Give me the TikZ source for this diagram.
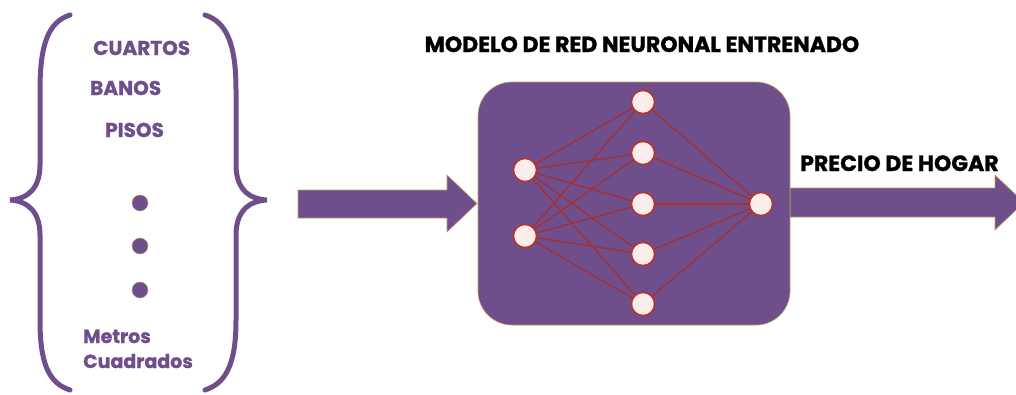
\documentclass[tikz,border=0pt]{standalone}
\usepackage{fontspec}
\setmainfont{Poppins}[BoldFeatures={FakeBold=1.2}]
\definecolor{vio}{RGB}{111,78,140}
\definecolor{tanline}{RGB}{196,160,90}
\definecolor{nred}{RGB}{190,48,42}
\definecolor{nfill}{RGB}{250,238,236}
\begin{document}
\begin{tikzpicture}[x=1pt,y=-1pt,
  neuron/.style={circle,draw=nred,fill=nfill,line width=1.4pt,minimum size=23pt,inner sep=0pt},
  syn/.style={draw=nred!90!black,line width=1.1pt},
  feat/.style={text=vio,font=\bfseries\fontsize{20}{24}\selectfont,inner sep=0pt,anchor=base west},
  head/.style={text=black,font=\bfseries\fontsize{22}{26}\selectfont,inner sep=0pt,anchor=base},
  brace/.style={draw=vio,line width=5pt,line cap=round},
  bigarrow/.style={fill=vio,draw=tanline,line width=0.6pt},
  vdot/.style={circle,fill=vio,draw=tanline,line width=0.4pt,minimum size=16pt,inner sep=0pt}]
\useasboundingbox (0,0) rectangle (1016,394);
% braces
\draw[brace] (70,15) .. controls (48,22) and (40,45) .. (40,90) -- (40,165) .. controls (40,188) and (28,199) .. (10,200) .. controls (28,201) and (40,212) .. (40,235) -- (40,320) .. controls (40,362) and (48,383) .. (70,390);
\draw[brace] (205,15) .. controls (227,22) and (236,45) .. (236,90) -- (236,165) .. controls (236,188) and (248,199) .. (267,200) .. controls (248,201) and (236,212) .. (236,235) -- (236,320) .. controls (236,362) and (227,383) .. (205,390);
% features
\node[feat] (cuartos) at (93,55) {CUARTOS};
\node[feat] (banos) at (90,95) {BANOS};
\node[feat] (pisos) at (105,137) {PISOS};
\node[vdot] (d1) at (140,203) {};
\node[vdot] (d2) at (140,246) {};
\node[vdot] (d3) at (140,290) {};
\node[feat,font=\bfseries\fontsize{19}{24}\selectfont] (metros) at (83,343) {Metros};
\node[feat,font=\bfseries\fontsize{19}{24}\selectfont] (cuadrados) at (83,368) {Cuadrados};
% input arrow
\draw[bigarrow] (298,190) -- (447,190) -- (447,175) -- (477,203.5) -- (447,232) -- (447,218) -- (298,218) -- cycle;
% output arrow
\draw[bigarrow] (790,188) -- (995,188) -- (995,175) -- (1024,202.5) -- (995,230) -- (995,217) -- (790,217) -- cycle;
% box
\node[draw=tanline,fill=vio,rounded corners=34pt,minimum width=312pt,minimum height=243pt,line width=0.6pt] (box) at (634,203.5) {};
% titles
\node[head] (title) at (642,52) {MODELO DE RED NEURONAL ENTRENADO};
\node[head,anchor=base west] (precio) at (800,171) {PRECIO DE HOGAR};
% network
\node[neuron] (i1) at (525,170) {};
\node[neuron] (i2) at (525,236) {};
\node[neuron] (h1) at (643,102) {};
\node[neuron] (h2) at (643,153) {};
\node[neuron] (h3) at (643,204) {};
\node[neuron] (h4) at (643,254) {};
\node[neuron] (h5) at (643,304) {};
\node[neuron] (o1) at (761,204) {};
\foreach \i in {i1,i2}{\foreach \h in {h1,h2,h3,h4,h5}{\draw[syn] (\i.center) -- (\h);}}
\foreach \h in {h1,h2,h3,h4,h5}{\draw[syn] (\h) -- (o1.center);}
\foreach \n in {i1,i2,h1,h2,h3,h4,h5,o1}{\node[neuron] at (\n) {};}
\end{tikzpicture}
\end{document}
